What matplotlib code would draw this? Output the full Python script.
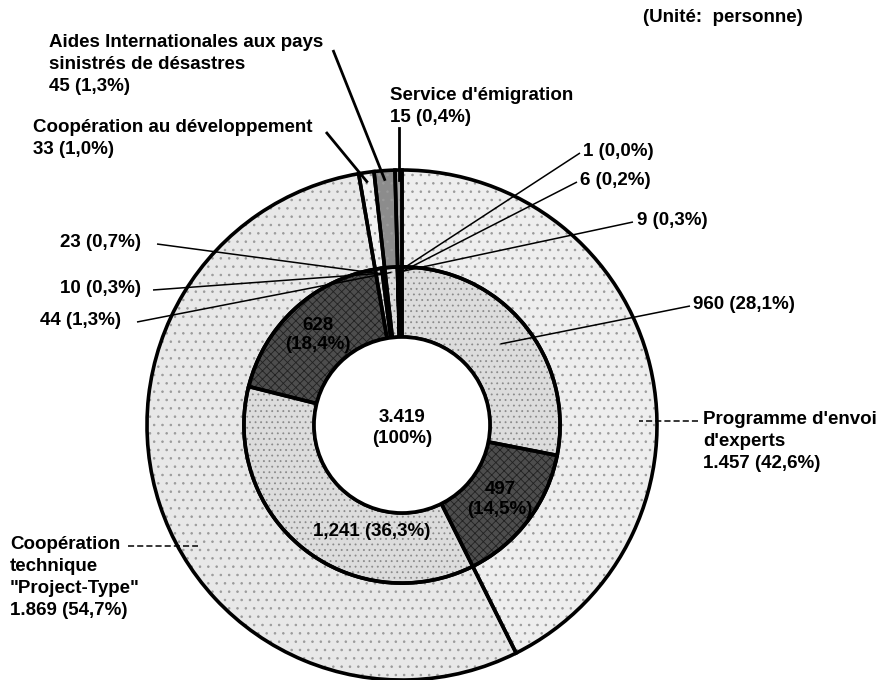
"""
Nested donut: personnel dispatched by programme (unit: persons).
"""

import numpy as np
import matplotlib
matplotlib.use('Agg')
import matplotlib.pyplot as plt

plt.rcParams['font.family'] = ['Liberation Sans', 'DejaVu Sans']
plt.rcParams['hatch.linewidth'] = 0.6

# outer ring, clockwise from 12 o'clock
outer_names = ["Programme d'envoi\nd'experts",
               'Coopération\ntechnique\n"Project-Type"',
               'Coopération au développement',
               'Aides Internationales aux pays\nsinistrés de désastres',
               "Service d'émigration"]
outer_values = [1457, 1869, 33, 45, 15]
outer_pct = ['42,6', '54,7', '1,0', '1,3', '0,4']
outer_counts = ['1.457', '1.869', '33', '45', '15']

# inner ring: each outer category split in two sub-groups (light, dark)
inner_values = [960, 497, 1241, 628, 23, 10, 44, 1, 9, 6]
inner_pct = ['28,1', '14,5', '36,3', '18,4', '0,7', '0,3', '1,3', '0,0', '0,3', '0,2']
inner_counts = ['960', '497', '1,241', '628', '23', '10', '44', '1', '9', '6']
inner_dark = [False, True, False, True, False, True, False, True, False, True]

total = '3.419'

W, H = 885, 680
CX, CY, S = 402, 425, 255   # pixel centre and pixels per unit radius


def px(x, y):
    return (x - CX) / S, (CY - y) / S


fig = plt.figure(figsize=(W / 100, H / 100), dpi=100)
ax = fig.add_axes([0, 0, 1, 1])

R_OUT, R_MID, R_IN = 1.0, 0.62, 0.345
LW = 2.6

outer_fill = ['#eeeeee', '#e8e8e8', '#f2f2f2', '#8c8c8c', '#a8a8a8']
inner_fill = ['#4d4d4d' if d else '#dcdcdc' for d in inner_dark]
inner_hatch = ['xxxx' if d else '...' for d in inner_dark]

kw = dict(startangle=90, counterclock=False)

# filled, textured rings
ow, _ = ax.pie(outer_values, radius=R_OUT, colors=outer_fill,
               wedgeprops=dict(width=R_OUT - R_MID, linewidth=0), **kw)
iw, _ = ax.pie(inner_values, radius=R_MID, colors=inner_fill,
               wedgeprops=dict(width=R_MID - R_IN, linewidth=0), **kw)
for w in ow:
    w.set_hatch('..')
    w.set_edgecolor('#9a9a9a')
for w, h in zip(iw, inner_hatch):
    w.set_hatch(h)
    w.set_edgecolor('#222222' if h == 'xxxx' else '#8a8a8a')

# black outlines on top
ax.pie(outer_values, radius=R_OUT, colors=['none'] * len(outer_values),
       wedgeprops=dict(width=R_OUT - R_MID, edgecolor='black',
                       linewidth=LW), **kw)
ax.pie(inner_values, radius=R_MID, colors=['none'] * len(inner_values),
       wedgeprops=dict(width=R_MID - R_IN, edgecolor='black',
                       linewidth=LW), **kw)
ax.add_patch(plt.Circle((0, 0), R_IN, facecolor='white',
                        edgecolor='black', linewidth=LW))

# pie() resets the limits, so set them afterwards
ax.set_xlim(-CX / S, (W - CX) / S)
ax.set_ylim(-(H - CY) / S, CY / S)
ax.set_aspect('equal')
ax.axis('off')


def on_wedge(w, r):
    a = np.radians((w.theta1 + w.theta2) / 2)
    return r * np.cos(a), r * np.sin(a)


FS = 13.5
txt = dict(fontsize=FS, fontweight='bold', color='black',
           linespacing=1.38, ha='left')


def label(s, x, y, **extra):
    d = dict(txt)
    d.update(extra)
    ax.text(*px(x, y), s, va='top', **d)


def leader(x, y, end, lw=1.1, ls='-'):
    x0, y0 = px(x, y)
    ax.plot([x0, end[0]], [y0, end[1]], color='black', lw=lw, ls=ls,
            solid_capstyle='butt')


label('(Unité:  personne)', 643, 9)

# small outer categories at the top
label(f'{outer_names[3]}\n{outer_counts[3]} ({outer_pct[3]}%)', 49, 34)
leader(333, 50, on_wedge(ow[3], 0.96), lw=2.0)
label(f'{outer_names[2]}\n{outer_counts[2]} ({outer_pct[2]}%)', 33, 119)
leader(326, 132, on_wedge(ow[2], 0.96), lw=2.0)
label(f'{outer_names[4]}\n{outer_counts[4]} ({outer_pct[4]}%)', 390, 87)
sx, sy = on_wedge(ow[4], 0.96)
ax.plot([sx, sx], [px(0, 128)[1], sy], color='black', lw=2.0)

# large outer categories
label(f'{outer_names[0]}\n{outer_counts[0]} ({outer_pct[0]}%)', 703, 411)
ey = px(0, 421)[1]
leader(698, 421, (np.sqrt(0.93 ** 2 - ey ** 2), ey), ls=(0, (4, 2)))
label(f'{outer_names[1]}\n{outer_counts[1]} ({outer_pct[1]}%)', 10, 536)
ey = px(0, 546)[1]
leader(128, 546, (-np.sqrt(0.93 ** 2 - ey ** 2), ey), ls=(0, (4, 2)))

# inner small slices
side = {7: (583, 153, 580), 9: (580, 182, 577), 8: (637, 222, 633),
        4: (60, 244, 157), 5: (60, 290, 153), 6: (40, 322, 137)}
for i, (tx, ty, lx) in side.items():
    label(f'{inner_counts[i]} ({inner_pct[i]}%)', tx, ty - 10)
    leader(lx, ty, on_wedge(iw[i], R_MID - 0.02))

label(f'{inner_counts[0]} ({inner_pct[0]}%)', 693, 296)
leader(690, 306, on_wedge(iw[0], 0.5))

# labels inside the inner ring
for i in (1, 3):
    x, y = on_wedge(iw[i], (R_MID + R_IN) / 2)
    ax.text(x, y, f'{inner_counts[i]}\n({inner_pct[i]}%)', ha='center',
            va='center', fontsize=FS, fontweight='bold', color='black',
            linespacing=1.2)
ax.text(*px(372, 532), f'{inner_counts[2]} ({inner_pct[2]}%)', ha='center',
        va='center', fontsize=FS, fontweight='bold')

ax.text(0, -0.01, f'{total}\n(100%)', ha='center', va='center',
        fontsize=FS, fontweight='bold', linespacing=1.3)

plt.savefig('out.png', dpi=100)
print("Saved out.png")
